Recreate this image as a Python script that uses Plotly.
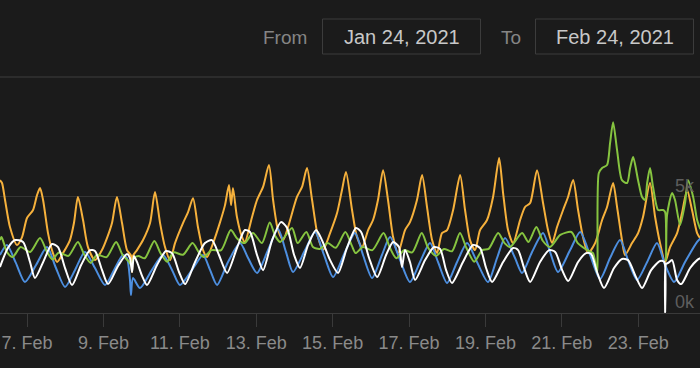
import plotly.graph_objects as go
import pandas as pd

# ---------------- data (hours since 2021-02-06 00:00, value) ----------------
BASE = pd.Timestamp("2021-02-06 00:00")

orange_pts = [(7,5700),(8.3,5580),(10.2,4850),(13.3,3690),(17.7,2920),(20.9,3260),(24,4080),(27.8,4420),(30.3,5060),(32.2,5360),(34.1,4850),(37.2,3430),(40.3,2570),(42.9,2190),(46.6,2570),(51,3130),(53.5,3860),(56,4980),(59.2,3990),(62.3,2830),(66.7,2270),(71.1,2700),(74.3,3220),(77.4,3860),(80.5,4980),(83.7,3860),(86.8,2700),(89.4,2450),(90,1760),(90.6,2450),(93.1,2700),(96.9,3130),(101.3,3860),(104.4,5190),(107.6,3860),(110.7,2830),(113.9,2270),(117,3000),(122,3860),(125.2,4330),(128.3,4930),(131.4,3690),(134.6,2700),(137.1,2400),(140.9,3000),(145.3,3900),(148.4,4630),(150.9,5490),(152.2,4630),(153.4,5360),(155.9,4120),(159.1,3260),(160.9,3050),(165.4,4120),(168.5,4850),(172.3,5410),(176,6350),(178.6,4850),(181.7,3560),(184.9,3130),(188,3690),(193.6,4980),(196.8,5410),(199.9,6220),(203.1,4850),(206.8,3260),(210,2700),(214.4,3430),(218.8,4290),(221.9,5280),(224.4,6050),(228.2,4420),(231.3,3260),(234.5,2830),(238.3,3560),(241.4,3990),(244.5,4850),(247.7,6130),(250.8,4850),(254,3260),(257.1,2570),(261.5,3560),(264.6,3900),(269,4850),(272.2,5920),(275.3,4550),(278.5,3130),(281.6,2570),(284.7,3430),(287.9,3560),(291.7,4420),(296.1,5920),(299.2,4420),(302.3,3130),(305.5,2700),(308.6,3560),(313,3990),(316.8,4980),(320.6,6650),(323.1,5150),(326.2,3560),(329.4,3000),(333.8,3990),(336.9,4550),(340.1,4720),(344.4,6130),(348.2,4720),(351.3,3560),(353.9,3000),(357,3690),(360.8,4420),(363.9,4980),(367.1,5710),(370.2,4420),(373.3,3260),(376.5,2570),(380.9,3000),(385.3,3990),(388.4,4550),(392.2,5580),(394.7,4550),(397.8,3130),(399.7,2490),(404.1,3000),(407.9,3430),(411,4120),(415.4,5580),(418.6,4120),(421.7,3000),(424.9,2190),(428,2830),(432.4,3430),(435.5,4290),(438.7,5280),(441.8,4420),(445,3430),(447,3200)]

green_pts = [(7,3130),(8,3260),(11.4,2620),(15,2400),(20,2830),(26,2620),(32.2,3220),(36.6,2620),(40,2300),(44,2600),(50,2450),(56,3050),(60,2500),(64,2150),(68,2500),(74,2400),(80,3050),(84,2500),(88,2200),(89.5,2050),(91,2350),(94,2450),(98,2350),(104,3090),(108,2550),(112,2200),(116,2600),(122,2500),(128,3000),(132,2600),(135,2400),(140,2700),(146,2700),(152,3560),(156,3200),(160.7,3000),(166,3430),(171.6,3000),(176.5,3880),(180,3300),(183,3050),(190.5,3650),(194,3000),(199.5,3475),(203.7,2830),(208,2750),(213,3000),(218,2800),(224,3475),(228,2900),(230.5,2570),(235,2830),(241,2700),(248,3430),(252,2800),(256,2350),(261,2700),(266,2600),(272,3430),(276,2800),(281,2450),(286,2750),(291,2650),(296,3430),(300,2800),(305,2200),(310,2700),(314,2750),(320,3430),(324,3000),(327.5,2830),(335,3430),(339,3050),(344,3690),(348,3100),(352.6,2830),(359,3350),(366,3475),(370,3000),(376,2700),(379.6,2570),(382.1,1720),(383.2,6000),(385.3,6220),(388.4,6350),(390.3,7290),(392.2,8190),(394.7,6990),(397.8,5700),(401,5580),(402.9,6220),(404.8,6690),(407.9,5700),(410.4,4980),(412.3,4850),(413.6,5580),(415.4,6220),(417.3,5410),(420.5,4420),(423.6,4420),(424.9,4330),(425.5,2270),(426.1,4200),(429.3,5150),(431.1,4850),(434.3,3780),(437.4,4720),(439.3,5700),(442.5,4980),(445,3990),(447,3600)]

blue_pts = [(7,2490),(11.4,2920),(17,2150),(22.7,1330),(29.7,2060),(36.6,2830),(42.2,1930),(47.9,1120),(54.2,1850),(60.4,2620),(66.7,1930),(73,1200),(78.7,1850),(84.3,2490),(86.8,2360),(88.7,1420),(89.3,770),(90.6,1500),(95,1070),(102.5,1850),(109.5,2490),(115.1,1850),(120.1,1200),(127.7,1850),(134.6,2490),(139,1850),(143.4,1200),(150.3,2190),(157.8,3000),(162.9,2360),(168.5,1720),(175.4,2700),(181.7,3600),(186.7,2620),(191.1,1760),(198.7,2700),(204.9,3475),(210.6,2490),(216.3,1540),(223.8,2620),(230.1,3430),(235.1,2490),(240.8,1500),(247,2490),(252.1,3260),(258.4,2270),(264.6,1330),(270.9,2190),(277.2,3000),(282.2,2190),(287.9,1290),(294.2,2190),(300.5,3000),(306.7,2190),(313.6,1330),(319.3,2360),(324.3,3220),(330.6,2360),(335,1720),(341.3,2620),(348.2,3430),(352.6,2620),(357.6,1760),(365.2,2700),(371.5,3475),(377.7,2490),(384,1460),(390.3,2360),(396.6,3130),(401.6,2270),(407.3,1420),(413.6,2190),(419.8,3000),(424.9,2060),(430.5,1330),(437.4,2190),(445,3050),(447,3200)]

white_pts = [(7,1970),(12,2790),(16.5,3130),(21.5,3050),(25.9,2190),(29,1500),(34.7,2270),(39.7,2960),(43.5,2830),(47.9,1930),(52.3,1200),(58,2060),(63.6,2700),(66.7,2660),(71.1,1850),(74.9,1240),(81.2,2020),(86.8,2530),(88.7,2360),(90,1760),(91.2,2450),(93.1,2190),(96.3,1590),(99.4,1200),(105.7,2060),(111.3,2660),(115.1,2570),(119.5,1760),(123.3,1240),(129.6,2190),(135.8,3000),(140.2,3130),(144.6,2490),(149.7,1720),(155.9,2790),(160.9,3560),(164.1,3475),(168.5,2490),(172.3,1840),(178,3130),(183.6,3900),(187.4,3650),(191.8,2490),(195.5,1930),(200.6,2920),(205.6,3560),(209.3,3130),(214.4,2270),(219.4,1720),(225,2790),(230.7,3650),(233.9,3475),(238.9,2360),(244,1540),(249.6,2490),(254,3050),(257.7,2830),(259.6,1970),(261.5,2700),(264.6,2190),(267.8,1420),(274.1,2270),(279.7,2830),(283.5,2750),(287.3,1840),(291,1290),(297.9,2190),(304.2,2920),(308.6,2790),(312.4,1930),(316.2,1330),(323.1,2190),(329.4,2790),(332.5,2700),(336.3,1930),(340.1,1330),(346.3,2190),(352,2700),(355.8,2620),(360.2,1840),(364,1370),(370.2,2190),(375.2,2570),(378.4,2530),(382.1,1760),(386.5,1070),(392.8,1930),(397.8,2320),(401.6,2270),(406.6,1540),(410.4,1070),(416.1,1840),(421.7,2230),(424.3,2190),(424.9,40),(425.4,2100),(426.8,2150),(429.3,2270),(432.4,1420),(435,1240),(440.6,1930),(445,2270),(447,2350)]

x_tick_start = "2021-02-07"
y_tick_labels = {5000: "5k", 0: "0k"}
range_from = "Jan 24, 2021"
range_to = "Feb 24, 2021"

series = [
    ("Series 1", orange_pts, "#f6b13c"),
    ("Series 2", blue_pts, "#4d8fe0"),
    ("Series 3", green_pts, "#86c440"),
    ("Series 4", white_pts, "#ffffff"),
]

# ---------------- figure ----------------
W, H = 700, 368
T, B = 80, 55
PLOT_H = H - T - B
BG = "#1b1b1b"
FONT = "Liberation Sans, Arial, sans-serif"


def ypaper(py):
    return (H - B - py) / PLOT_H


fig = go.Figure()
for name, pts, col in series:
    xs = BASE + pd.to_timedelta([p[0] for p in pts], unit="h")
    ys = [p[1] for p in pts]
    fig.add_trace(go.Scatter(x=xs, y=ys, mode="lines", name=name,
                             line=dict(color=col, width=2, shape="spline", smoothing=0.7),
                             hoverinfo="skip"))

shapes = [
    dict(type="line", xref="paper", yref="paper", x0=0, x1=1, y0=ypaper(77), y1=ypaper(77),
         line=dict(color="#3e3e3e", width=1)),
    dict(type="rect", xref="paper", yref="paper", x0=322.5 / W, x1=480.5 / W,
         y0=ypaper(54), y1=ypaper(19), line=dict(color="#3c3c3c", width=1)),
    dict(type="rect", xref="paper", yref="paper", x0=535.5 / W, x1=693.5 / W,
         y0=ypaper(54), y1=ypaper(19), line=dict(color="#3c3c3c", width=1)),
]

annotations = [
    dict(text="From", x=285 / W, y=ypaper(37), xref="paper", yref="paper", showarrow=False,
         xanchor="center", yanchor="middle", font=dict(family=FONT, size=19, color="#858585")),
    dict(text=range_from, x=401.5 / W, y=ypaper(37), xref="paper", yref="paper", showarrow=False,
         xanchor="center", yanchor="middle", font=dict(family=FONT, size=20, color="#c8c8c8")),
    dict(text="To", x=511 / W, y=ypaper(37), xref="paper", yref="paper", showarrow=False,
         xanchor="center", yanchor="middle", font=dict(family=FONT, size=19, color="#858585")),
    dict(text=range_to, x=614.5 / W, y=ypaper(37), xref="paper", yref="paper", showarrow=False,
         xanchor="center", yanchor="middle", font=dict(family=FONT, size=20, color="#c8c8c8")),
]
for val, lab in y_tick_labels.items():
    annotations.append(dict(text=lab, x=697 / W, y=val, xref="paper", yref="y", yshift=11,
                            showarrow=False, xanchor="right", yanchor="middle",
                            font=dict(family=FONT, size=18, color="#5e5e5e")))

x0 = BASE + pd.Timedelta(hours=7.04)
x1 = BASE + pd.Timedelta(hours=446.8)

fig.update_layout(
    width=W, height=H,
    margin=dict(l=0, r=0, t=T, b=B, pad=0),
    paper_bgcolor=BG, plot_bgcolor=BG,
    showlegend=False, hovermode=False,
    font=dict(family=FONT),
    shapes=shapes, annotations=annotations,
    xaxis=dict(type="date", range=[x0, x1], tick0=x_tick_start, dtick=2 * 86400000,
               tickformat="%-d. %b", ticks="outside", ticklen=13, tickwidth=1,
               tickcolor="#3a3a3a", showline=True, linecolor="#3a3a3a", linewidth=1,
               showgrid=False, zeroline=False,
               tickfont=dict(family=FONT, size=18, color="#8a8a8a")),
    yaxis=dict(range=[0, 10000], tickvals=[5000], showticklabels=False,
               showgrid=True, gridcolor="#353535", gridwidth=1, zeroline=False,
               showline=False, fixedrange=True),
)

fig.write_html("out.html", config={"displayModeBar": False},
               post_script="document.body.style.margin='0';document.body.style.background='#1b1b1b';")
